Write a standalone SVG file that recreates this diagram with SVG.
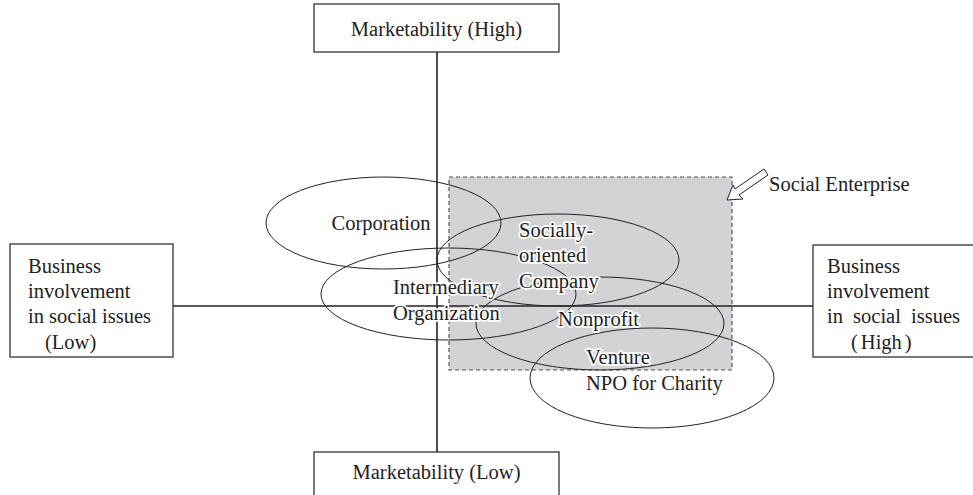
<svg xmlns="http://www.w3.org/2000/svg" width="973" height="495" viewBox="0 0 973 495">
<style>
.box{fill:#fff;stroke:#333;stroke-width:1.3}
.axis{stroke:#222;stroke-width:1.6;fill:none}
.ell{fill:none;stroke:#222;stroke-width:1}
svg text, g text, text, tspan{font-family:'Liberation Serif',serif !important;font-size:20.5px;fill:#222}
.halo{stroke:#fff;stroke-width:3.5;paint-order:stroke;stroke-linejoin:round}
</style>
<rect width="973" height="495" fill="#fff"/>
<g id="social-enterprise-area">
<rect x="449" y="177" width="283" height="193" fill="#d3d3d5" stroke="#555" stroke-width="1.2" stroke-dasharray="4,3"/>
</g>
<g id="connectors">
<line class="axis" x1="437" y1="52" x2="437" y2="452"/>
<line class="axis" x1="173" y1="306" x2="813" y2="306"/>
<path d="M727,200 L743,199 L739,195 L768,175 L764,169 L735,189 L733,185 Z" fill="#fff" stroke="#222" stroke-width="1"/>
</g>
<g id="corporation"><ellipse class="ell" cx="383.5" cy="223" rx="117.5" ry="46"/></g>
<g id="socially-oriented"><ellipse class="ell" cx="558" cy="260" rx="121" ry="46"/></g>
<g id="intermediary"><ellipse class="ell" cx="448.5" cy="294" rx="127.5" ry="46"/></g>
<g id="nonprofit"><ellipse class="ell" cx="600" cy="323.5" rx="124" ry="46.5"/></g>
<g id="npo-charity"><ellipse class="ell" cx="652" cy="378" rx="122" ry="50"/></g>
<g id="labels">
<text font-family="Liberation Serif" x="381" y="230" text-anchor="middle" class="halo">Corporation</text>
<text font-family="Liberation Serif" x="519" y="237" class="halo">Socially-</text>
<text font-family="Liberation Serif" x="519" y="262" class="halo">oriented</text>
<text font-family="Liberation Serif" x="519" y="288" class="halo">Company</text>
<text font-family="Liberation Serif" x="393" y="294" class="halo">Intermediary</text>
<text font-family="Liberation Serif" x="393" y="320" class="halo">Organization</text>
<text font-family="Liberation Serif" x="558" y="326" class="halo">Nonprofit</text>
<text font-family="Liberation Serif" x="586" y="364" class="halo">Venture</text>
<text font-family="Liberation Serif" x="586" y="390" class="halo">NPO for Charity</text>
<text font-family="Liberation Serif" x="769" y="191">Social Enterprise</text>
</g>
<g id="top-box">
<rect class="box" x="314" y="4" width="245" height="48"/>
<text font-family="Liberation Serif" x="436.5" y="36" text-anchor="middle">Marketability (High)</text>
</g>
<g id="bottom-box">
<rect class="box" x="314" y="452" width="245" height="50"/>
<text font-family="Liberation Serif" x="436.5" y="479" text-anchor="middle">Marketability (Low)</text>
</g>
<g id="left-box">
<rect class="box" x="10" y="244" width="163" height="113"/>
<text font-family="Liberation Serif" x="28" y="273">Business</text>
<text font-family="Liberation Serif" x="28" y="298">involvement</text>
<text font-family="Liberation Serif" x="28" y="323">in social issues</text>
<text font-family="Liberation Serif" x="45" y="349">(Low)</text>
</g>
<g id="right-box">
<rect class="box" x="813" y="245" width="170" height="112"/>
<text font-family="Liberation Serif" x="827" y="273">Business</text>
<text font-family="Liberation Serif" x="827" y="298">involvement</text>
<text font-family="Liberation Serif" x="827" y="323" word-spacing="5">in social issues</text>
<text font-family="Liberation Serif" x="851" y="349">(<tspan dx="3">High</tspan><tspan dx="3">)</tspan></text>
</g>
</svg>
